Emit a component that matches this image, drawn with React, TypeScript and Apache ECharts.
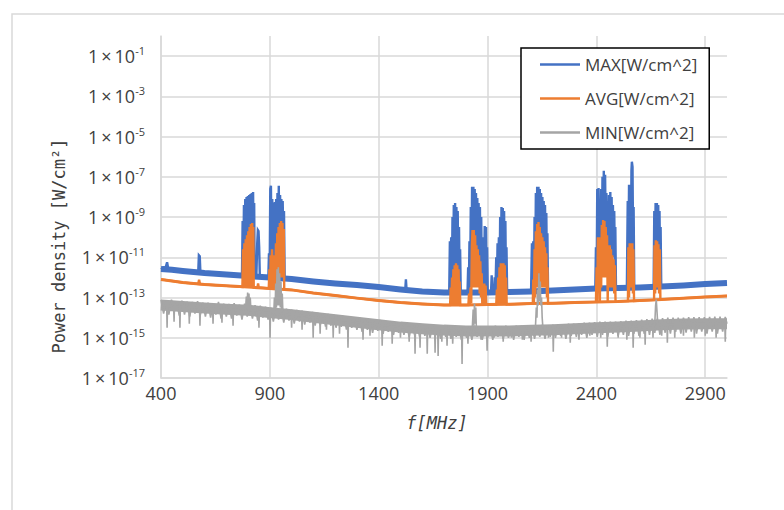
import React, { useEffect, useRef } from 'react';
import * as echarts from 'echarts';

// Axis ticks
const X_TICKS = [400, 900, 1400, 1900, 2400, 2900];
const Y_TICKS = [1e-17, 1e-15, 1e-13, 1e-11, 1e-9, 1e-7, 1e-5, 1e-3, 1e-1];
const SERIES_NAMES = ['MAX[W/cm^2]', 'AVG[W/cm^2]', 'MIN[W/cm^2]'];
const COLORS = ['#4472C4', '#ED7D31', '#A5A5A5'];

// All values: [frequency MHz, log10 of power density in W/cm^2]
const MAX_TREND: [number, number][] = [
  [400, -11.58], [450, -11.62], [500, -11.68], [600, -11.78], [700, -11.85], [800, -11.93], [900, -12.0],
  [1000, -12.08], [1100, -12.2], [1200, -12.3], [1300, -12.38], [1400, -12.48], [1500, -12.6], [1600, -12.7],
  [1700, -12.75], [1800, -12.75], [1900, -12.75], [2000, -12.73], [2100, -12.7], [2200, -12.65], [2300, -12.6],
  [2400, -12.55], [2500, -12.53], [2600, -12.5], [2700, -12.45], [2800, -12.4], [2900, -12.33], [3000, -12.28],
];

const MAX_DETAIL: [number, number][] = [
  [400, -11.6], [412, -11.5], [420, -11.55], [428, -11.25], [433, -11.55], [470, -11.6], [520, -11.7],
  [571, -11.75], [574, -10.9], [578, -10.95], [581, -11.75], [650, -11.8], [720, -11.9], [772, -11.93],
  [775, -9.2], [778, -11.9], [781, -8.4], [784, -11.9], [787, -8.1], [790, -11.9], [793, -8.0], [796, -11.9],
  [799, -7.95], [802, -11.9], [805, -7.9], [808, -11.9], [811, -7.85], [814, -11.9], [817, -7.8], [820, -11.9],
  [823, -7.75], [826, -11.9], [828, -8.3], [830, -11.95],
  [838, -11.97], [842, -10.3], [845, -9.65], [848, -9.7], [851, -10.5], [854, -11.98], [880, -12.0], [893, -12.0],
  [896, -10.8], [899, -12.0], [902, -7.6], [905, -7.45], [908, -11.5], [911, -8.1], [914, -11.5], [917, -8.3],
  [920, -11.5], [923, -8.25], [926, -11.5], [929, -8.1], [932, -11.0], [935, -7.8], [938, -11.0], [941, -7.45],
  [944, -10.5], [947, -7.9], [950, -10.5], [953, -8.1], [956, -10.5], [959, -8.2], [962, -10.5], [965, -8.7],
  [968, -12.05],
  [1000, -12.1], [1045, -12.12], [1100, -12.2], [1150, -12.25], [1200, -12.3], [1260, -12.35], [1300, -12.38],
  [1350, -12.43], [1400, -12.48], [1450, -12.55], [1500, -12.6], [1522, -12.62], [1525, -12.1], [1528, -12.62],
  [1560, -12.66], [1600, -12.7], [1650, -12.72], [1700, -12.75], [1724, -12.75],
  [1727, -10.2], [1730, -12.7], [1733, -10.0], [1736, -12.7], [1739, -9.0], [1742, -12.5], [1745, -8.4],
  [1748, -12.5], [1751, -8.3], [1754, -12.5], [1757, -8.5], [1760, -12.5], [1763, -8.7], [1766, -12.5],
  [1769, -9.5], [1772, -12.6], [1774, -10.6], [1777, -12.75],
  [1790, -12.75], [1800, -12.72], [1808, -12.75],
  [1811, -11.5], [1814, -12.7], [1817, -10.2], [1820, -12.5], [1823, -8.5], [1826, -12.0], [1829, -7.5],
  [1832, -11.5], [1835, -7.5], [1838, -11.5], [1841, -7.6], [1844, -11.5], [1847, -7.8], [1850, -11.5],
  [1853, -8.05], [1856, -11.5], [1859, -8.3], [1862, -11.5], [1865, -8.5], [1868, -12.0], [1871, -9.0],
  [1874, -12.5],
  [1878, -12.7], [1881, -10.0], [1884, -12.6], [1887, -9.45], [1890, -12.6], [1893, -9.5], [1896, -12.6],
  [1898, -10.5], [1901, -12.75],
  [1916, -12.75], [1919, -11.9], [1922, -12.75], [1930, -12.75], [1933, -12.0], [1936, -12.75],
  [1940, -11.0], [1943, -12.7], [1946, -10.3], [1949, -12.7], [1952, -10.0], [1955, -12.5], [1958, -9.0],
  [1961, -12.5], [1964, -8.5], [1967, -12.5], [1970, -8.55], [1973, -12.5], [1976, -8.7], [1979, -12.5],
  [1982, -9.2], [1985, -12.7], [1987, -10.5], [1990, -12.74],
  [2030, -12.73], [2070, -12.7], [2100, -12.7],
  [2104, -10.3], [2107, -12.6], [2110, -10.2], [2113, -12.6], [2116, -9.0], [2119, -12.0], [2122, -7.8],
  [2125, -11.5], [2128, -7.5], [2131, -11.0], [2134, -7.5], [2137, -11.0], [2140, -7.6], [2143, -11.0],
  [2146, -7.8], [2149, -11.0], [2152, -8.0], [2155, -11.0], [2158, -8.2], [2161, -11.0], [2164, -8.4],
  [2167, -11.0], [2170, -8.8], [2173, -12.0], [2175, -9.8], [2178, -12.68],
  [2200, -12.65], [2250, -12.62], [2300, -12.6], [2350, -12.58], [2395, -12.55],
  [2398, -10.5], [2401, -12.5], [2404, -7.6], [2407, -11.5], [2410, -7.55], [2413, -11.0], [2416, -8.4],
  [2419, -11.0], [2422, -7.6], [2425, -10.5], [2428, -7.0], [2431, -10.0], [2434, -6.7], [2437, -10.0],
  [2440, -6.9], [2443, -10.0], [2446, -7.8], [2449, -10.5], [2452, -8.2], [2455, -11.0], [2458, -7.9],
  [2461, -10.5], [2464, -7.75], [2467, -10.5], [2470, -8.0], [2473, -11.0], [2476, -8.4], [2479, -11.0],
  [2482, -8.7], [2485, -11.5], [2487, -9.5], [2490, -12.55],
  [2510, -12.53], [2540, -12.52],
  [2544, -8.2], [2547, -11.0], [2550, -7.4], [2553, -11.0], [2556, -7.5], [2559, -11.0], [2561, -6.7],
  [2563, -6.25], [2566, -6.5], [2569, -11.0], [2571, -8.5], [2574, -12.5],
  [2600, -12.5], [2640, -12.47], [2663, -12.45],
  [2666, -8.7], [2669, -11.0], [2672, -8.3], [2675, -11.0], [2678, -8.3], [2681, -11.0], [2684, -8.4],
  [2687, -11.0], [2690, -8.7], [2693, -12.0], [2695, -9.5], [2698, -12.45],
  [2750, -12.42], [2800, -12.4], [2850, -12.36], [2900, -12.33], [2950, -12.3], [3000, -12.28],
];

const AVG_TREND: [number, number][] = [
  [400, -12.1], [500, -12.25], [600, -12.35], [700, -12.42], [800, -12.48], [900, -12.55], [1000, -12.62],
  [1100, -12.78], [1200, -12.9], [1300, -13.03], [1400, -13.15], [1500, -13.25], [1600, -13.32], [1700, -13.37],
  [1800, -13.37], [1900, -13.35], [2000, -13.33], [2100, -13.3], [2200, -13.28], [2300, -13.25], [2400, -13.22],
  [2500, -13.2], [2600, -13.15], [2700, -13.1], [2800, -13.03], [2900, -12.97], [3000, -12.92],
];

const AVG_DETAIL: [number, number][] = [
  [400, -12.1], [500, -12.25], [571, -12.32], [575, -12.12], [579, -12.33], [650, -12.39], [700, -12.42],
  [774, -12.47],
  [777, -10.6], [780, -12.45], [783, -10.3], [786, -12.45], [789, -10.1], [792, -12.45], [795, -9.9],
  [798, -12.45], [801, -9.7], [804, -12.45], [807, -9.5], [810, -12.45], [813, -9.35], [816, -12.45],
  [819, -9.3], [822, -12.45], [824, -9.5], [826, -12.5],
  [843, -12.5], [846, -12.3], [849, -12.5], [895, -12.55],
  [898, -11.6], [901, -12.55], [904, -10.9], [907, -12.55], [910, -10.6], [913, -12.55], [916, -10.9],
  [919, -12.55], [922, -11.2], [925, -12.55], [928, -10.3], [931, -12.55], [934, -9.8], [937, -12.3],
  [940, -9.5], [943, -12.0], [946, -9.3], [949, -12.0], [952, -9.2], [955, -12.0], [958, -9.3], [961, -12.0],
  [964, -9.6], [966, -12.58],
  [1000, -12.62], [1100, -12.78], [1200, -12.9], [1300, -13.03], [1400, -13.15], [1500, -13.25],
  [1600, -13.32], [1700, -13.37], [1728, -13.37],
  [1731, -12.5], [1734, -13.35], [1737, -12.0], [1740, -13.35], [1743, -11.6], [1746, -13.35], [1749, -11.4],
  [1752, -13.35], [1755, -11.3], [1758, -13.35], [1761, -11.4], [1764, -13.35], [1767, -11.6], [1770, -13.35],
  [1772, -12.2], [1775, -13.37],
  [1812, -13.37], [1815, -12.8], [1818, -13.35], [1822, -12.5], [1825, -13.3], [1828, -10.5], [1831, -9.65],
  [1834, -12.5], [1837, -9.65], [1840, -12.5], [1843, -9.9], [1846, -12.5], [1849, -10.4], [1852, -12.5],
  [1855, -10.6], [1858, -12.5], [1861, -10.9], [1864, -12.8], [1867, -11.2], [1870, -13.0], [1873, -11.8],
  [1876, -13.36],
  [1882, -13.36], [1885, -12.3], [1888, -13.3], [1891, -12.4], [1894, -13.36],
  [1940, -13.35], [1943, -12.6], [1946, -13.35], [1949, -12.0], [1952, -13.35], [1955, -11.5], [1958, -13.35],
  [1961, -11.3], [1964, -13.35], [1967, -11.3], [1970, -13.35], [1973, -11.3], [1976, -13.35], [1979, -11.4],
  [1982, -13.35], [1985, -12.0], [1988, -13.35],
  [2050, -13.32], [2108, -13.3],
  [2110, -12.1], [2113, -13.3], [2116, -10.6], [2119, -13.0], [2122, -9.7], [2125, -12.5], [2128, -9.35],
  [2131, -12.5], [2134, -9.25], [2137, -12.5], [2140, -9.5], [2143, -12.5], [2146, -9.8], [2149, -12.5],
  [2152, -10.0], [2155, -12.5], [2158, -10.2], [2161, -12.5], [2164, -10.5], [2167, -12.5], [2170, -10.8],
  [2173, -13.0], [2175, -11.5], [2178, -13.3],
  [2250, -13.27], [2300, -13.25], [2398, -13.22],
  [2401, -11.5], [2404, -13.2], [2407, -10.0], [2410, -12.5], [2413, -10.0], [2416, -13.2], [2419, -10.3],
  [2422, -12.5], [2425, -9.4], [2428, -12.0], [2431, -9.15], [2434, -12.0], [2437, -9.2], [2440, -12.0],
  [2443, -9.5], [2446, -12.0], [2449, -9.9], [2452, -13.2], [2455, -10.4], [2458, -12.5], [2461, -10.4],
  [2464, -12.5], [2467, -10.6], [2470, -12.5], [2473, -10.9], [2476, -12.5], [2479, -11.1], [2482, -12.8],
  [2485, -11.4], [2488, -13.2],
  [2545, -13.18],
  [2547, -10.5], [2550, -13.0], [2553, -10.3], [2556, -12.5], [2559, -10.3], [2562, -12.5], [2565, -10.3],
  [2568, -12.8], [2570, -10.6], [2573, -13.17],
  [2665, -13.12],
  [2667, -10.4], [2670, -12.8], [2673, -10.15], [2676, -12.5], [2679, -10.2], [2682, -12.5], [2685, -10.35],
  [2688, -12.8], [2691, -10.6], [2694, -13.1],
  [2800, -13.03], [2900, -12.97], [3000, -12.92],
];

const MIN_TREND: [number, number][] = [
  [400, -13.37], [500, -13.45], [600, -13.52], [700, -13.58], [800, -13.63], [900, -13.75], [1000, -13.85],
  [1100, -13.98], [1200, -14.1], [1300, -14.23], [1400, -14.35], [1500, -14.47], [1600, -14.55], [1700, -14.62],
  [1800, -14.66], [1900, -14.66], [2000, -14.66], [2100, -14.63], [2200, -14.6], [2300, -14.55], [2400, -14.5],
  [2500, -14.47], [2600, -14.42], [2700, -14.35], [2800, -14.32], [2900, -14.3], [3000, -14.3],
];

// fine-grained noise of the MIN trace (alternating upper / lower edge of the noise band)
const MIN_NOISE: [number, number][] = [
  [400, -13.12], [412, -13.8], [424, -13.15], [436, -13.85], [448, -13.1], [460, -13.75], [472, -13.18],
  [484, -13.9], [496, -13.15], [508, -13.85], [520, -13.2], [532, -13.95], [544, -13.22], [556, -13.8],
  [568, -13.18], [580, -13.9], [592, -13.25], [604, -13.95], [616, -13.25], [628, -14.0], [640, -13.3],
  [652, -13.85], [664, -13.22], [676, -14.05], [688, -13.3], [700, -13.95], [712, -13.32], [724, -14.05],
  [736, -13.28], [748, -13.9], [760, -13.35], [772, -14.1], [784, -13.3], [796, -13.95], [808, -13.35],
  [820, -14.05], [832, -13.38], [844, -14.15], [856, -13.4], [868, -14.0], [880, -13.45], [892, -14.1],
  [904, -13.5], [916, -14.2], [928, -13.5], [940, -14.1], [952, -13.55], [964, -14.25], [976, -13.55],
  [988, -14.15], [1000, -13.6], [1012, -14.3], [1024, -13.62], [1036, -14.2], [1048, -13.65], [1060, -14.35],
  [1072, -13.7], [1084, -14.25], [1096, -13.72], [1108, -14.4], [1120, -13.75], [1132, -14.35], [1144, -13.8],
  [1156, -14.45], [1168, -13.82], [1180, -14.4], [1192, -13.85], [1204, -14.5], [1216, -13.9], [1228, -14.45],
  [1240, -13.92], [1252, -14.6], [1264, -13.95], [1276, -14.5], [1288, -14.0], [1300, -14.6], [1312, -14.0],
  [1324, -14.7], [1336, -14.05], [1348, -14.6], [1360, -14.08], [1372, -14.75], [1384, -14.1], [1396, -14.65],
  [1408, -14.12], [1420, -14.8], [1432, -14.18], [1444, -14.7], [1456, -14.2], [1468, -14.85], [1480, -14.22],
  [1492, -14.75], [1504, -14.25], [1516, -14.85], [1528, -14.28], [1540, -14.95], [1552, -14.3], [1564, -14.8],
  [1576, -14.3], [1588, -14.95], [1600, -14.32], [1612, -14.9], [1624, -14.35], [1636, -15.0], [1648, -14.38],
  [1660, -14.9], [1672, -14.38], [1684, -15.05], [1696, -14.4], [1708, -14.95], [1720, -14.4], [1732, -15.05],
  [1744, -14.42], [1756, -14.95], [1768, -14.42], [1780, -15.1], [1792, -14.42], [1804, -15.0], [1816, -14.42],
  [1828, -15.1], [1840, -14.4], [1852, -14.95], [1864, -14.42], [1876, -15.1], [1888, -14.42], [1900, -15.0],
  [1912, -14.42], [1924, -15.1], [1936, -14.4], [1948, -14.95], [1960, -14.42], [1972, -15.05], [1984, -14.4],
  [1996, -15.0], [2008, -14.42], [2020, -15.1], [2032, -14.4], [2044, -14.95], [2056, -14.4], [2068, -15.1],
  [2080, -14.4], [2092, -15.0], [2104, -14.38], [2116, -15.05], [2128, -14.38], [2140, -14.95], [2152, -14.35],
  [2164, -15.05], [2176, -14.37], [2188, -14.95], [2200, -14.35], [2212, -15.0], [2224, -14.33], [2236, -14.9],
  [2248, -14.32], [2260, -15.05], [2272, -14.3], [2284, -14.9], [2296, -14.3], [2308, -14.95], [2320, -14.28],
  [2332, -14.85], [2344, -14.25], [2356, -15.0], [2368, -14.25], [2380, -14.85], [2392, -14.22], [2404, -14.95],
  [2416, -14.2], [2428, -14.85], [2440, -14.2], [2452, -14.95], [2464, -14.2], [2476, -14.8], [2488, -14.2],
  [2500, -14.9], [2512, -14.18], [2524, -14.85], [2536, -14.15], [2548, -14.9], [2560, -14.15], [2572, -14.8],
  [2584, -14.12], [2596, -14.9], [2608, -14.1], [2620, -14.8], [2632, -14.08], [2644, -14.85], [2656, -14.05],
  [2668, -14.75], [2680, -14.05], [2692, -14.85], [2704, -14.02], [2716, -14.75], [2728, -14.0], [2740, -14.8],
  [2752, -14.0], [2764, -14.7], [2776, -14.0], [2788, -14.8], [2800, -14.0], [2812, -14.75], [2824, -13.98],
  [2836, -14.7], [2848, -13.98], [2860, -14.8], [2872, -13.97], [2884, -14.7], [2896, -13.97], [2908, -14.8],
  [2920, -13.96], [2932, -14.7], [2944, -13.95], [2956, -14.8], [2968, -13.95], [2980, -14.7], [2992, -13.96],
  [3000, -14.3],
];

const MIN_DETAIL: [number, number][] = [
  [400, -13.37],
  [426, -13.39], [428, -14.5], [430, -13.39], [458, -13.42], [460, -14.2], [462, -13.42],
  [485, -13.44], [487, -14.5], [489, -13.44], [528, -13.47], [530, -14.3], [532, -13.47],
  [577, -13.5], [579, -14.4], [581, -13.5], [637, -13.55], [639, -14.3], [641, -13.55],
  [678, -13.57], [680, -14.25], [682, -13.57], [729, -13.6], [731, -14.4], [733, -13.6],
  [788, -13.63], [792, -12.95], [795, -13.55], [798, -12.75], [801, -13.55], [804, -12.8], [807, -13.55],
  [810, -13.0], [813, -13.63],
  [848, -13.68], [850, -14.5], [852, -13.68], [899, -13.75], [901, -15.0], [903, -13.75],
  [918, -13.78], [921, -13.0], [924, -13.7], [927, -12.3], [930, -13.5], [933, -11.6], [936, -13.4],
  [939, -11.5], [942, -13.4], [945, -11.8], [948, -13.5], [951, -12.2], [954, -13.6], [957, -12.8], [960, -13.8],
  [998, -13.85], [1000, -14.5], [1002, -13.85], [1046, -13.9], [1048, -14.6], [1050, -13.9],
  [1097, -13.98], [1099, -15.0], [1101, -13.98], [1129, -14.02], [1131, -14.8], [1133, -14.02],
  [1158, -14.05], [1160, -14.6], [1162, -14.05], [1189, -14.09], [1191, -15.0], [1193, -14.09],
  [1218, -14.13], [1220, -14.8], [1222, -14.13], [1257, -14.18], [1259, -15.5], [1261, -14.18],
  [1326, -14.26], [1328, -15.1], [1330, -14.26], [1358, -14.3], [1360, -14.9], [1362, -14.3],
  [1414, -14.37], [1416, -15.4], [1418, -14.37], [1460, -14.42], [1462, -15.3], [1464, -14.42],
  [1498, -14.47], [1500, -15.0], [1502, -14.47], [1538, -14.5], [1540, -15.2], [1542, -14.5],
  [1565, -14.52], [1567, -15.8], [1569, -14.52], [1588, -14.54], [1590, -15.5], [1592, -14.54],
  [1621, -14.57], [1623, -15.8], [1625, -14.57], [1657, -14.59], [1659, -15.75], [1661, -14.59],
  [1671, -14.6], [1673, -15.9], [1675, -14.6], [1688, -14.61], [1690, -15.2], [1692, -14.61],
  [1712, -14.63], [1714, -15.4], [1716, -14.63], [1738, -14.64], [1740, -15.3], [1742, -14.64],
  [1781, -14.66], [1783, -16.3], [1785, -14.66], [1808, -14.66], [1810, -15.3], [1812, -14.66],
  [1830, -14.5], [1834, -13.6], [1837, -14.4], [1840, -13.3], [1843, -14.3], [1846, -13.5], [1849, -14.66],
  [1868, -14.66], [1870, -15.1], [1872, -14.66], [1896, -14.66], [1898, -15.65], [1900, -14.66],
  [1928, -14.66], [1930, -15.0], [1932, -14.66], [1970, -14.66], [1972, -15.2], [1974, -14.66],
  [2008, -14.66], [2010, -15.0], [2012, -14.66], [2058, -14.65], [2060, -15.1], [2062, -14.65],
  [2098, -14.63], [2100, -15.2], [2102, -14.63],
  [2120, -14.5], [2124, -13.5], [2127, -14.0], [2130, -12.6], [2133, -13.4], [2136, -11.8], [2139, -13.2],
  [2142, -12.2], [2145, -13.4], [2148, -13.0], [2151, -14.0], [2155, -14.62],
  [2178, -14.61], [2180, -15.0], [2182, -14.61], [2200, -14.6], [2202, -15.7], [2204, -14.6],
  [2238, -14.58], [2240, -15.0], [2242, -14.58], [2278, -14.56], [2280, -15.25], [2282, -14.56],
  [2318, -14.54], [2320, -15.1], [2322, -14.54], [2368, -14.52], [2370, -14.9], [2372, -14.52],
  [2418, -14.49], [2420, -15.0], [2422, -14.49], [2448, -14.48], [2450, -15.45], [2452, -14.48],
  [2498, -14.47], [2500, -15.0], [2502, -14.47], [2538, -14.45], [2540, -15.1], [2542, -14.45],
  [2567, -14.44], [2569, -15.5], [2571, -14.44], [2598, -14.42], [2600, -15.0], [2602, -14.42],
  [2622, -14.4], [2624, -15.35], [2626, -14.4], [2658, -14.37], [2660, -15.0], [2662, -14.37],
  [2668, -14.36], [2672, -13.4], [2675, -13.1], [2678, -13.6], [2682, -14.36],
  [2698, -14.35], [2700, -14.9], [2702, -14.35], [2724, -14.34], [2726, -15.25], [2728, -14.34],
  [2758, -14.33], [2760, -15.0], [2762, -14.33], [2798, -14.32], [2800, -14.9], [2802, -14.32],
  [2848, -14.31], [2850, -15.0], [2852, -14.31], [2898, -14.3], [2900, -14.9], [2902, -14.3],
  [2948, -14.3], [2950, -15.0], [2952, -14.3], [2990, -14.3], [2992, -15.2], [2994, -14.3], [3000, -14.3],
];

const TEXT = '#404040';
const GRID = '#d9d9d9';
const SANS = '"Open Sans", "DejaVu Sans", sans-serif';
const MONO = '"DejaVu Sans Mono", "Liberation Mono", monospace';

const toPts = (arr: [number, number][]) => arr.map(([f, e]) => [f, Math.pow(10, e)]);

function lineSeries(name: string, color: string, data: [number, number][], width: number) {
  return {
    name,
    type: 'line',
    data: toPts(data),
    symbol: 'none',
    showSymbol: false,
    silent: true,
    lineStyle: { color, width, join: 'miter' },
    itemStyle: { color },
    emphasis: { disabled: true },
  };
}

export default function App() {
  const ref = useRef<HTMLDivElement>(null);
  useEffect(() => {
    const chart = echarts.init(ref.current!, null, { renderer: 'svg' });
    const option: any = {
      animation: false,
      backgroundColor: '#ffffff',
      graphic: [
        {
          type: 'rect',
          shape: { x: 12, y: 14, width: 800, height: 520 },
          style: { fill: 'none', stroke: GRID, lineWidth: 1.5 },
          silent: true,
          z: -1,
        },
      ],
      grid: { left: 161, right: 57, top: 36, bottom: 132, containLabel: false },
      legend: {
        orient: 'vertical',
        left: 521,
        top: 48,
        padding: [8, 12, 8, 19],
        itemGap: 17,
        itemWidth: 40,
        itemHeight: 2.5,
        icon: 'rect',
        borderColor: '#000',
        borderWidth: 1.5,
        backgroundColor: '#fff',
        data: SERIES_NAMES,
        textStyle: { fontFamily: SANS, fontSize: 17, color: TEXT, lineHeight: 17 },
      },
      xAxis: {
        type: 'value',
        min: 400,
        max: 3000,
        name: 'f[MHz]',
        nameLocation: 'middle',
        nameGap: 36,
        nameTextStyle: { fontFamily: MONO, fontSize: 17, fontStyle: 'italic', color: TEXT, padding: [0, 14, 0, 0] },
        axisLine: { show: true, lineStyle: { color: GRID, width: 1.5 } },
        axisTick: { show: false, customValues: X_TICKS },
        axisLabel: {
          customValues: X_TICKS,
          formatter: (v: number) => String(v),
          fontFamily: SANS,
          fontSize: 18,
          color: TEXT,
          margin: 6,
        },
        splitLine: { show: true, lineStyle: { color: GRID, width: 1.5 } },
      },
      yAxis: {
        type: 'log',
        logBase: 10,
        min: 1e-17,
        max: 1,
        name: 'Power density [W/cm²]',
        nameLocation: 'middle',
        nameGap: 94,
        nameTextStyle: { fontFamily: MONO, fontSize: 17, color: TEXT, padding: [0, 78, 0, 0] },
        axisLine: { show: true, lineStyle: { color: GRID, width: 1.5 } },
        axisTick: { show: false, customValues: Y_TICKS },
        axisLabel: {
          customValues: Y_TICKS,
          margin: 16,
          formatter: (v: number) => `{m|1\u2009×\u200910}{s|${Math.round(Math.log10(v))}}`,
          rich: {
            m: { fontFamily: SANS, fontSize: 18, color: TEXT, lineHeight: 22 },
            s: { fontFamily: SANS, fontSize: 11, color: TEXT, verticalAlign: 'top' },
          },
        },
        splitLine: { show: true, lineStyle: { color: GRID, width: 1.5 } },
      },
      series: [
        lineSeries(SERIES_NAMES[0], COLORS[0], MAX_DETAIL, 2.4),
        lineSeries(SERIES_NAMES[0], COLORS[0], MAX_TREND, 6),
        lineSeries(SERIES_NAMES[1], COLORS[1], AVG_DETAIL, 2.4),
        lineSeries(SERIES_NAMES[1], COLORS[1], AVG_TREND, 3),
        lineSeries(SERIES_NAMES[2], COLORS[2], MIN_TREND, 11),
        lineSeries(SERIES_NAMES[2], COLORS[2], MIN_NOISE, 1.6),
        lineSeries(SERIES_NAMES[2], COLORS[2], MIN_DETAIL, 1.6),
      ],
    };
    chart.setOption(option);
    return () => chart.dispose();
  }, []);
  return (
    <div
      ref={ref}
      style={{ position: 'absolute', left: 0, top: 0, width: 784, height: 510 }}
    />
  );
}
